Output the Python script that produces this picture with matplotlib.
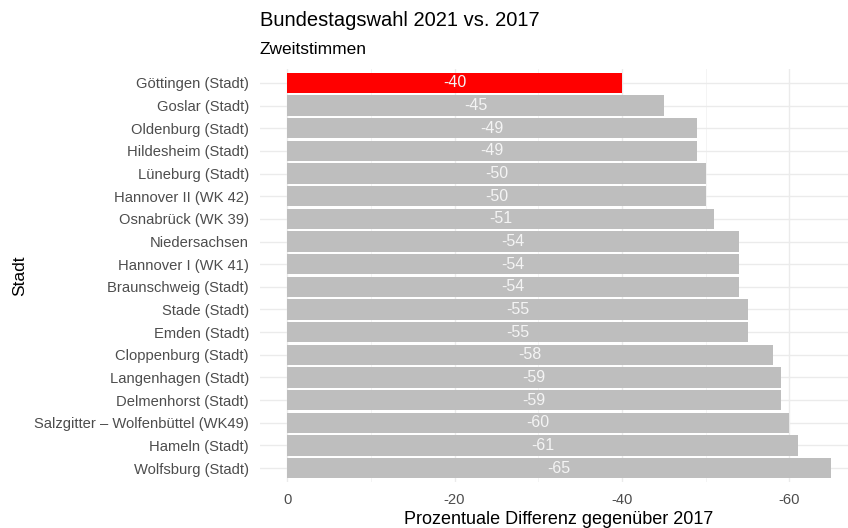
import matplotlib
matplotlib.use('Agg')
import matplotlib.pyplot as plt
from matplotlib.ticker import MultipleLocator

plt.rcParams['font.family'] = ['Liberation Sans', 'DejaVu Sans']
plt.rcParams['axes.unicode_minus'] = False

staedte = ['Göttingen (Stadt)', 'Goslar (Stadt)', 'Oldenburg (Stadt)', 'Hildesheim (Stadt)',
           'Lüneburg (Stadt)', 'Hannover II (WK 42)', 'Osnabrück (WK 39)', 'Niedersachsen',
           'Hannover I (WK 41)', 'Braunschweig (Stadt)', 'Stade (Stadt)', 'Emden (Stadt)',
           'Cloppenburg (Stadt)', 'Langenhagen (Stadt)', 'Delmenhorst (Stadt)',
           'Salzgitter – Wolfenbüttel (WK49)', 'Hameln (Stadt)', 'Wolfsburg (Stadt)']
differenz = [-40, -45, -49, -49, -50, -50, -51, -54, -54, -54, -55, -55, -58, -59, -59, -60, -61, -65]
hervorheben = 'Göttingen (Stadt)'

fig = plt.figure(figsize=(8.48, 5.28), dpi=100)
ax = fig.add_axes([260/848, (528-481.6)/528, (848-260)/848, (481.6-69.4)/528])

pos = list(range(1, len(staedte) + 1))
farben = ['#FF0000' if s == hervorheben else '#BEBEBE' for s in staedte]
ax.barh(pos, differenz, height=0.9, color=farben, zorder=2)
for p, v in zip(pos, differenz):
    ax.text(v / 2, p, str(v), color='#F4F4F4', fontsize=11.5, ha='center', va='center', zorder=3)

ax.set_xlim(3.25, -67.0)
ax.set_ylim(len(staedte) + 0.6, 0.4)
ax.set_yticks(pos)
ax.set_yticklabels(staedte)
ax.xaxis.set_major_locator(MultipleLocator(20))
ax.xaxis.set_minor_locator(MultipleLocator(10))
ax.grid(which='major', color='#EBEBEB', linewidth=1.0, zorder=0)
ax.grid(which='minor', axis='x', color='#F2F2F2', linewidth=0.6, zorder=0)
ax.set_axisbelow(True)
for sp in ax.spines.values():
    sp.set_visible(False)
ax.tick_params(which='both', length=0, labelsize=10.6, labelcolor='#4D4D4D')
ax.tick_params(axis='y', pad=8)
ax.tick_params(axis='x', pad=8)

# x-Titel mittig unter dem (rechts abgeschnittenen) Panel
ax.set_xlabel('Prozentuale Differenz gegenüber 2017', fontsize=13, labelpad=3)
ax.xaxis.label.set_x((559 - 260) / 588)
ax.set_ylabel('Stadt', fontsize=12.5, labelpad=8)
ax.yaxis.set_label_coords(-(260 - 27) / 588, 0.5)
fig.text(260/848, 1 - 20/528, 'Bundestagswahl 2021 vs. 2017', fontsize=14.5, ha='left', va='center')
fig.text(260/848, 1 - 49/528, 'Zweitstimmen', fontsize=12.5, ha='left', va='center')

fig.savefig('out.png', dpi=100)
